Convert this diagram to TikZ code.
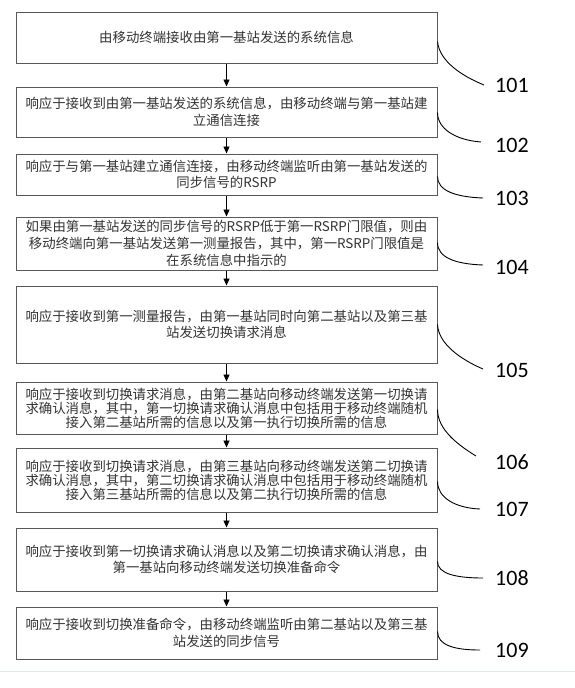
\documentclass[tikz,border=0pt]{standalone}
\usepackage{fontspec}
\newfontfamily\cjk{Noto Sans CJK SC}
\newfontfamily\lblfont{Carlito}
\usetikzlibrary{arrows.meta,calc}
\definecolor{boxline}{gray}{0.35}
\definecolor{txtcol}{gray}{0.2}
\definecolor{bluelinecol}{RGB}{218,232,246}
\tikzset{
  stepbox/.style={draw=boxline, line width=1pt, fill=white, minimum width=421pt, inner sep=0pt, align=center, text=txtcol, font=\cjk\fontsize{13.4pt}{16.7pt}\selectfont},
  tightbox/.style={stepbox, font=\cjk\fontsize{13.4pt}{14pt}\selectfont},
  arr/.style={draw=black, line width=0.9pt, -{Triangle[width=6pt,length=7pt]}},
  callout/.style={draw=black, line width=0.9pt},
  lbl/.style={anchor=west, inner sep=0pt, font=\lblfont\fontsize{22pt}{22pt}\selectfont}
}
\begin{document}
\begin{tikzpicture}[x=1pt,y=-1pt]
\useasboundingbox (0,0) rectangle (575,688);
\fill[white] (0,0) rectangle (575,688);
\node[stepbox, minimum height=51pt] (b1) at (226.5,37.5) {由移动终端接收由第一基站发送的系统信息};
\node[stepbox, minimum height=50pt] (b2) at (226.5,112) {响应于接收到由第一基站发送的系统信息，由移动终端与第一基站建\\立通信连接};
\node[stepbox, minimum height=41pt] (b3) at (226.5,174.5) {响应于与第一基站建立通信连接，由移动终端监听由第一基站发送的\\同步信号的RSRP};
\node[stepbox, minimum height=53pt] (b4) at (226.5,243.5) {如果由第一基站发送的同步信号的RSRP低于第一RSRP门限值，则由\\移动终端向第一基站发送第一测量报告，其中，第一RSRP门限值是\\在系统信息中指示的};
\node[stepbox, minimum height=77pt] (b5) at (226.5,324.5) {响应于接收到第一测量报告，由第一基站同时向第二基站以及第三基\\站发送切换请求消息};
\node[tightbox, minimum height=52pt] (b6) at (226.5,408) {响应于接收到切换请求消息，由第二基站向移动终端发送第一切换请\\求确认消息，其中，第一切换请求确认消息中包括用于移动终端随机\\接入第二基站所需的信息以及第一执行切换所需的信息};
\node[tightbox, minimum height=64pt] (b7) at (226.5,480) {响应于接收到切换请求消息，由第三基站向移动终端发送第二切换请\\求确认消息，其中，第二切换请求确认消息中包括用于移动终端随机\\接入第三基站所需的信息以及第二执行切换所需的信息};
\node[stepbox, minimum height=63pt] (b8) at (226.5,559.5) {响应于接收到第一切换请求确认消息以及第二切换请求确认消息，由\\第一基站向移动终端发送切换准备命令};
\node[stepbox, minimum height=52pt] (b9) at (226.5,633) {响应于接收到切换准备命令，由移动终端监听由第二基站以及第三基\\站发送的同步信号};
\draw[arr] (b1) -- (b2);
\draw[arr] (b2) -- (b3);
\draw[arr] (b3) -- (b4);
\draw[arr] (b4) -- (b5);
\draw[arr] (b5) -- (b6);
\draw[arr] (b6) -- (b7);
\draw[arr] (b7) -- (b8);
\draw[arr] (b8) -- (b9);
% labels
\node[lbl] (l1) at (495,85) {101};
\node[lbl] (l2) at (495,145) {102};
\node[lbl] (l3) at (495,198) {103};
\node[lbl] (l4) at (495,267) {104};
\node[lbl] (l5) at (495,370) {105};
\node[lbl] (l6) at (495,462) {106};
\node[lbl] (l7) at (495,509) {107};
\node[lbl] (l8) at (495,578) {108};
\node[lbl] (l9) at (495,650) {109};
% callout ends
\coordinate (e1) at (484,85);
\coordinate (e2) at (481,142);
\coordinate (e3) at (483,198);
\coordinate (e4) at (483,265);
\coordinate (e5) at (483,369);
\coordinate (e6) at (476,456);
\coordinate (e7) at (480,509);
\coordinate (e8) at (483,578);
\coordinate (e9) at (480,650);
\draw[callout] ($(b1.north east)+(0,30)$) .. controls +(2,20) and (462,76) .. (e1);
\draw[callout] ($(b2.north east)+(0,26)$) .. controls +(0,16) and (455,140) .. (e2);
\draw[callout] ($(b3.north east)+(0,23)$) .. controls +(0,14) and (455,197) .. (e3);
\draw[callout] ($(b4.north east)+(0,26)$) .. controls +(0,15) and (455,264) .. (e4);
\draw[callout] ($(b5.north east)+(0,39)$) .. controls +(1,20) and (462,360) .. (e5);
\draw[callout] ($(b6.north east)+(0,28)$) .. controls +(0,20) and (458,445) .. (e6);
\draw[callout] ($(b7.north east)+(0,34)$) .. controls +(0,16) and (455,508) .. (e7);
\draw[callout] ($(b8.north east)+(0,34)$) .. controls +(0,12) and (455,578) .. (e8);
\draw[callout] ($(b9.north east)+(0,25)$) .. controls +(0,14) and (455,650) .. (e9);
\draw[bluelinecol, line width=1pt] (0,671) -- (575,671);
\end{tikzpicture}
\end{document}
